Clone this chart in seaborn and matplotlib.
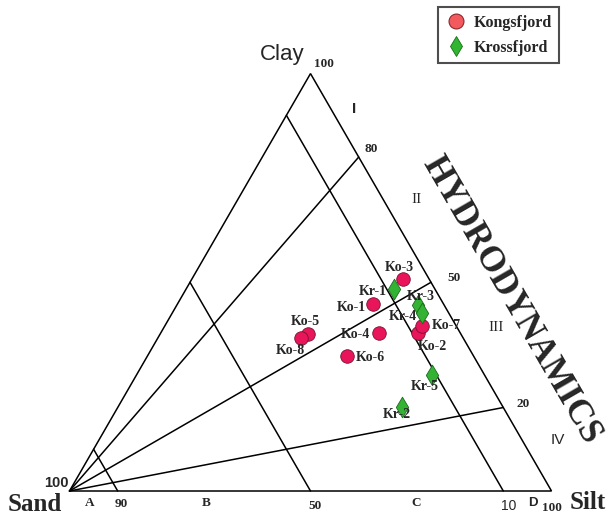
import numpy as np
import pandas as pd
import matplotlib
matplotlib.use("Agg")
import matplotlib.pyplot as plt
from matplotlib.lines import Line2D
import seaborn as sns

# Sample composition (percent sand, silt, clay)
ko_names = ["Ko-1", "Ko-2", "Ko-3", "Ko-4", "Ko-5", "Ko-6", "Ko-7", "Ko-8"]
ko_sand = [14.6, 8.7, 5.5, 16.8, 31.8, 26.2, 7.0, 33.7]
ko_silt = [40.7, 53.4, 43.8, 45.3, 30.6, 41.5, 53.4, 29.7]
ko_clay = [44.7, 37.9, 50.7, 37.9, 37.6, 32.3, 39.6, 36.6]

kr_names = ["Kr-1", "Kr-2", "Kr-3", "Kr-4", "Kr-5"]
kr_sand = [8.5, 21.0, 5.4, 5.5, 10.8]
kr_silt = [43.2, 58.8, 50.1, 51.9, 61.3]
kr_clay = [48.3, 20.2, 44.5, 42.6, 27.9]

# Pejrup division lines
clay_ratio_lines = [80, 50, 20]   # clay / (clay + silt), percent
sand_lines = [90, 50, 10]         # sand percent
sector_names = ["A", "B", "C", "D"]
regime_names = ["I", "II", "III", "IV"]

# label offsets (pixels) next to each sample marker
ko_offsets = [(-22, -3), (14, -14), (-3, 12), (-24, -2), (-2, 13), (23, -1), (24, 0), (-10, -12)]
kr_offsets = [(-21, -2), (-5, -8), (3, 9), (-19, -3), (-7, -12)]

H = np.sqrt(3) / 2


def tern(sand, silt, clay):
    s = np.asarray(sand, float) + np.asarray(silt, float) + np.asarray(clay, float)
    silt = np.asarray(silt, float) / s
    clay = np.asarray(clay, float) / s
    return silt + clay / 2, clay * H


sns.set_style("white")
plt.rcParams["font.family"] = ["Liberation Serif", "DejaVu Serif"]

fig = plt.figure(figsize=(6.09, 5.15), dpi=100)
ax = fig.add_axes([0, 0, 1, 1])

lw = 1.1
# triangle outline
tx, ty = tern([100, 0, 0, 100], [0, 100, 0, 0], [0, 0, 100, 0])
ax.plot(tx, ty, color="black", lw=lw, solid_joinstyle="miter")

# lines from the sand apex at fixed clay/silt ratios
for r in clay_ratio_lines:
    ex, ey = tern([100, 0], [0, 100 - r], [0, r])
    ax.plot(ex, ey, color="black", lw=lw)

# lines of constant sand content
for sp in sand_lines:
    ex, ey = tern([sp, sp], [0, 100 - sp], [100 - sp, 0])
    ax.plot(ex, ey, color="black", lw=lw)

# samples
kx, ky = tern(ko_sand, ko_silt, ko_clay)
rx, ry = tern(kr_sand, kr_silt, kr_clay)
df_ko = pd.DataFrame({"x": kx, "y": ky, "name": ko_names})
df_kr = pd.DataFrame({"x": rx, "y": ry, "name": kr_names})

sns.scatterplot(data=df_ko, x="x", y="y", marker="o", s=95, color="#E8155B",
                edgecolor="#7A1030", linewidth=0.6, ax=ax, zorder=4, legend=False)
sns.scatterplot(data=df_kr, x="x", y="y", marker="d", s=110, color="#33B233",
                edgecolor="#1B6B1B", linewidth=0.6, ax=ax, zorder=5, legend=False)
ax.axis("off")
ax.set_xlim(-69.5 / 482, (609 - 69.5) / 482)
ax.set_ylim((491 - 515) / 482, 491 / 482)

lab = dict(fontsize=10, fontweight="bold", ha="center", va="center",
           textcoords="offset pixels", zorder=6)
for n, x, y, off in zip(ko_names, kx, ky, ko_offsets):
    ax.annotate(n, (x, y), xytext=off, **lab)
for n, x, y, off in zip(kr_names, rx, ry, kr_offsets):
    ax.annotate(n, (x, y), xytext=off, **lab)

# end member names and scale numbers
ax.text(0.4415, 0.9046, "Clay", fontsize=16, family="Liberation Sans", ha="center", va="center")
ax.text(-0.0716, -0.0425, "Sand", fontsize=18, fontweight="bold", ha="center", va="baseline")
ax.text(1.0747, -0.037, "Silt", fontsize=18, fontweight="bold", ha="center", va="baseline")

num = dict(fontsize=9.5, fontweight="bold", ha="center", va="center")
ax.text(0.5270, 0.8853, "100", **num)
ax.text(0.6255, 0.7095, "80", **num)
ax.text(0.7971, 0.4413, "50", **num)
ax.text(0.9409, 0.1805, "20", **num)
ax.text(1.0004, -0.0359, "100", **num)
ax.text(0.1068, -0.0270, "90", **num)
ax.text(0.5093, -0.0311, "50", **num)
ax.text(-0.0266, 0.0166, "100", fontsize=10.5, fontweight="bold",
        family="Liberation Sans", ha="center", va="center")
ax.text(0.9104, -0.0311, "10", fontsize=10, family="Liberation Sans", ha="center", va="center")

# sectors along the base
for name, xpos in zip(sector_names, [0.0425, 0.2846, 0.7187, 0.9610]):
    fam = "Liberation Sans" if name == "D" else "Liberation Serif"
    ax.text(xpos, -0.025, name, fontsize=9.5, fontweight="bold", family=fam,
            ha="center", va="center")

# hydrodynamic regimes
reg_pos = [(0.5909, 0.7925), (0.7203, 0.6052), (0.8849, 0.3396), (1.0141, 0.1058)]
reg_fam = ["Liberation Sans", "Liberation Serif", "Liberation Serif", "Liberation Sans"]
reg_wt = ["bold", "normal", "normal", "normal"]
for name, (px, py), fam, wt in zip(regime_names, reg_pos, reg_fam, reg_wt):
    ax.text(px, py, name, fontsize=11, family=fam, fontweight=wt, ha="center", va="center")

ax.text(0.9160, 0.3960, "HYDRODYNAMICS", fontsize=25.5, fontweight="bold",
        rotation=-60, rotation_mode="anchor", ha="center", va="center")

handles = [
    Line2D([], [], marker="o", ls="", markersize=10.8, markerfacecolor="#F25A5E",
           markeredgecolor="#7A1E22", markeredgewidth=0.7, label="Kongsfjord"),
    Line2D([], [], marker="d", ls="", markersize=10, markerfacecolor="#2FB52F",
           markeredgecolor="#1B6B1B", markeredgewidth=0.6, label="Krossfjord"),
]
leg = fig.legend(handles=handles, loc="upper left", bbox_to_anchor=(0.7187, 0.9858),
                 borderaxespad=0, frameon=True, fancybox=False, borderpad=0.45,
                 handlelength=1.35, handletextpad=0.45, labelspacing=0.6,
                 prop={"family": "Liberation Serif", "weight": "bold", "size": 11.5})
leg.get_frame().set_edgecolor("#222222")
leg.get_frame().set_linewidth(1.5)

fig.savefig("out.png", dpi=100)
